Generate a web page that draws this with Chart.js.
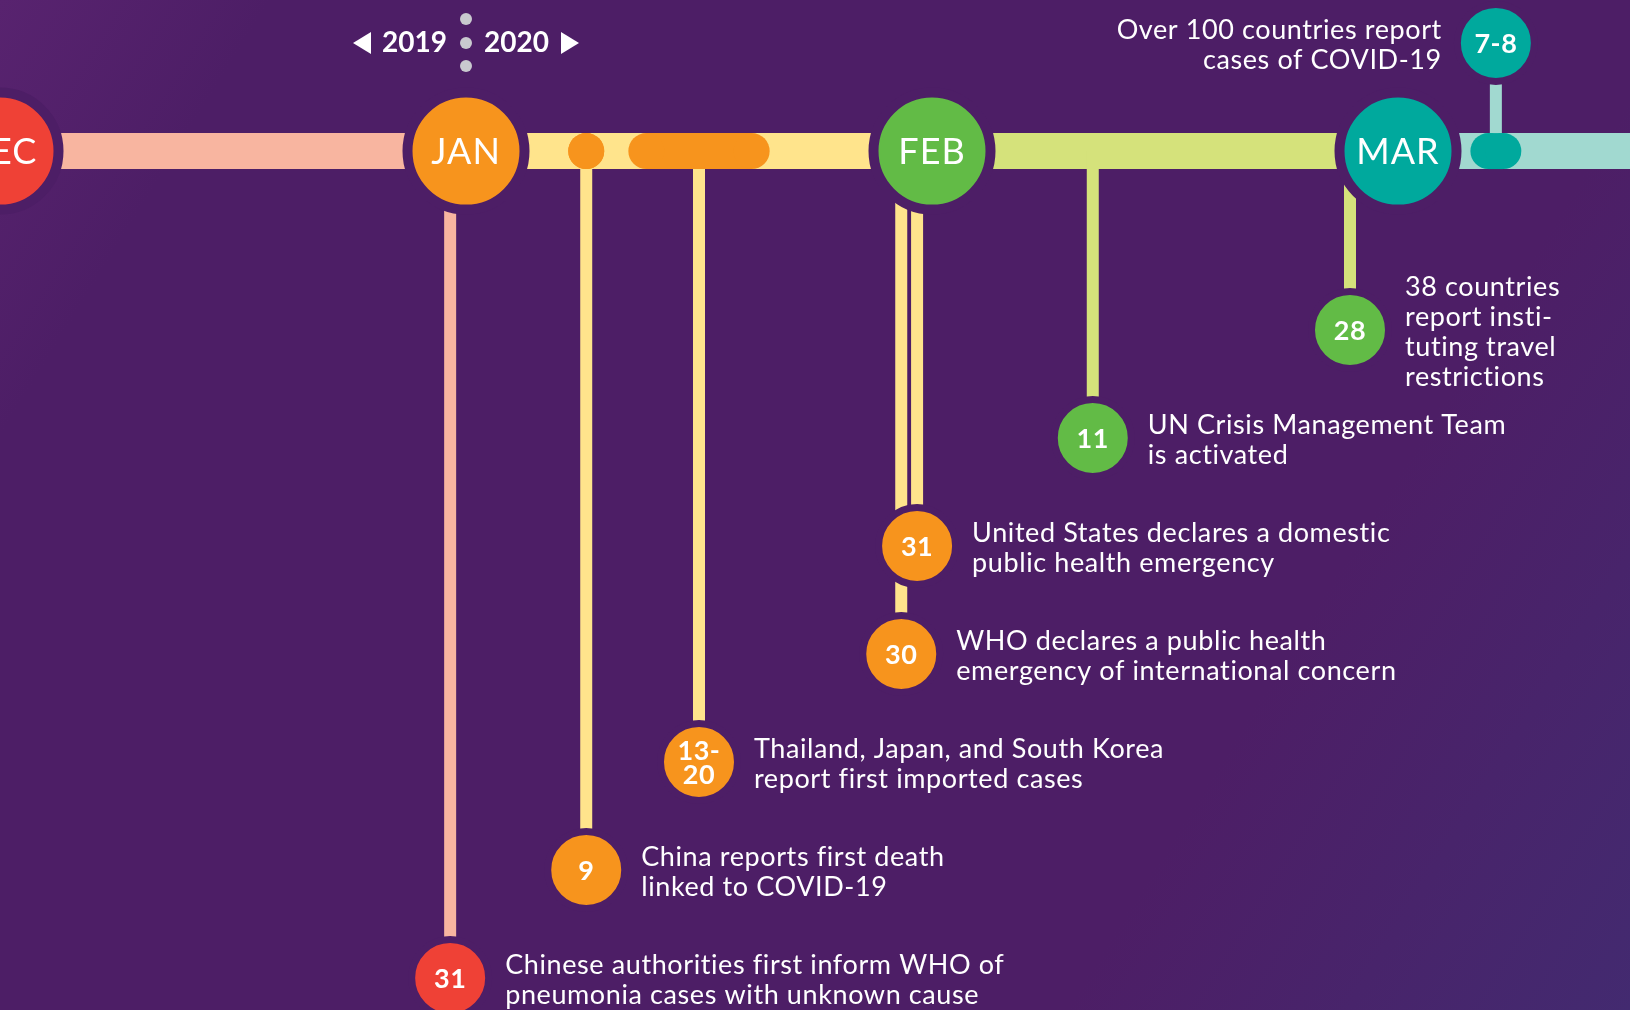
<!DOCTYPE html>
<html>
<head>
<meta charset="utf-8">
<script src="https://cdn.jsdelivr.net/npm/chart.js@4.4.1/dist/chart.umd.min.js"></script>
<style>
  html, body { margin: 0; padding: 0; overflow: hidden; background: #4D1E66; }
  canvas { display: block; }
</style>
</head>
<body>
<canvas id="timeline" width="1630" height="1010"></canvas>
<script>
// Months along the band (x = month index, DEC 2019 = 0)
const months = ['DEC', 'JAN', 'FEB', 'MAR'];
const monthPos = [0, 1, 2, 3];
const monthColors = ['#EF4136', '#F7941D', '#62BB46', '#00A99D'];
const bandColors = ['#F8B5A0', '#FFE48C', '#D5E27B', '#A1D9D0'];
const bandEnds = [1, 2, 3, 3.5];
const bandRow = -0.657;

// Events (position on the month axis, row below / above the band)
const eventDays = ['31', '9', '13-\n20', '30', '31', '11', '28', '7-8'];
const eventPos = [0.966, 1.258, 1.5, 1.934, 1.968, 2.345, 2.897, 3.21];
const eventRow = [7, 6, 5, 4, 3, 2, 1, -1.657];
const eventMonth = [0, 1, 1, 1, 1, 2, 2, 3];
const eventText = [
    ['Chinese authorities first inform WHO of', 'pneumonia cases with unknown cause'],
    ['China reports first death', 'linked to COVID-19'],
    ['Thailand, Japan, and South Korea', 'report first imported cases'],
    ['WHO declares a public health', 'emergency of international concern'],
    ['United States declares a domestic', 'public health emergency'],
    ['UN Crisis Management Team', 'is activated'],
    ['38 countries', 'report insti-', 'tuting travel', 'restrictions'],
    ['Over 100 countries report', 'cases of COVID-19']
];

// Highlights drawn on the band (start, end)
const markStart = [1.258, 1.387, 3.194];
const markEnd = [1.258, 1.613, 3.226];
const markColors = ['#F7941D', '#F7941D', '#00A99D'];

const years = ['2019', '2020'];

const BG = '#4D1E66';
const PX_PER_MONTH = 466;
const PX_PER_ROW = 108;
const yMin = -2.056;


let datasets = [];

// band segments
monthPos.forEach((m, i) => {
    datasets.push({
        type: 'line',
        data: [{x: m, y: bandRow}, {x: bandEnds[i], y: bandRow}],
        borderColor: bandColors[i],
        borderWidth: 36,
        borderCapStyle: 'butt',
        pointRadius: 0,
        clip: false,
        order: 50
    });
});

// stems
eventPos.forEach((p, i) => {
    datasets.push({
        type: 'line',
        data: [{x: p, y: bandRow}, {x: p, y: eventRow[i]}],
        borderColor: bandColors[eventMonth[i]],
        borderWidth: 12,
        borderCapStyle: 'butt',
        pointRadius: 0,
        clip: false,
        order: 40
    });
});

// marks on band
markStart.forEach((s, i) => {
    datasets.push({
        type: 'line',
        data: [{x: s, y: bandRow}, {x: markEnd[i], y: bandRow}],
        borderColor: markColors[i],
        borderWidth: 36,
        borderCapStyle: 'butt',
        pointRadius: 18,
        pointBorderWidth: 0,
        pointBackgroundColor: markColors[i],
        clip: false,
        order: 30
    });
});

// month circles
datasets.push({
    type: 'scatter',
    data: monthPos.map(m => ({x: m, y: bandRow})),
    pointRadius: 58.5,
    pointBorderWidth: 10,
    pointBorderColor: BG,
    pointBackgroundColor: monthColors,
    clip: false,
    order: 20
});

// event circles
datasets.push({
    type: 'scatter',
    data: eventPos.map((p, i) => ({x: p, y: eventRow[i]})),
    pointRadius: 38.5,
    pointBorderWidth: 7,
    pointBorderColor: BG,
    pointBackgroundColor: eventMonth.map(m => monthColors[m]),
    clip: false,
    order: 10
});


const background = {
    id: 'background',
    beforeDraw(chart) {
        const ctx = chart.ctx;
        const w = chart.width, h = chart.height;
        const g = ctx.createLinearGradient(0, 0, w, h);
        g.addColorStop(0, '#58236F');
        g.addColorStop(0.12, '#4D1E66');
        g.addColorStop(0.75, '#4D1E66');
        g.addColorStop(1, '#432A70');
        ctx.save();
        ctx.fillStyle = g;
        ctx.fillRect(0, 0, w, h);
        ctx.restore();
    }
};


const labels = {
    id: 'labels',
    afterDatasetsDraw(chart) {
        const ctx = chart.ctx;
        const x = chart.scales.x, y = chart.scales.y;
        ctx.save();
        ctx.fillStyle = '#FFFFFF';
        ctx.textBaseline = 'middle';

        // month names
        ctx.textAlign = 'center';
        ctx.font = '36px Lato';
        ctx.letterSpacing = '1px';
        months.forEach((m, i) => {
            ctx.fillText(m, x.getPixelForValue(monthPos[i]), y.getPixelForValue(bandRow) + 1);
        });

        // day numbers
        ctx.font = 'bold 27px Lato';
        ctx.letterSpacing = '0.5px';
        eventDays.forEach((d, i) => {
            const cx = x.getPixelForValue(eventPos[i]);
            const cy = y.getPixelForValue(eventRow[i]);
            const lines = d.split('\n');
            lines.forEach((l, j) => {
                ctx.fillText(l, cx, cy + 1 + (j - (lines.length - 1) / 2) * 24);
            });
        });

        // descriptions
        ctx.font = '27px Lato';
        ctx.letterSpacing = '0.6px';
        eventText.forEach((lines, i) => {
            const cx = x.getPixelForValue(eventPos[i]);
            const cy = y.getPixelForValue(eventRow[i]);
            const above = eventRow[i] < bandRow;
            ctx.textAlign = above ? 'right' : 'left';
            const tx = above ? cx - 54 : cx + 55;
            lines.forEach((l, j) => {
                ctx.fillText(l, tx, cy + 2 + (j - (lines.length - 1) / 2) * 30);
            });
        });

        // year header over JAN
        const jx = x.getPixelForValue(1);
        ctx.font = 'bold 28px Lato';
        ctx.letterSpacing = '0px';
        ctx.textAlign = 'right';
        ctx.fillText(years[0], jx - 19, 43);
        ctx.textAlign = 'left';
        ctx.fillText(years[1], jx + 18, 43);

        ctx.fillStyle = '#C9C9CF';
        [19, 43, 66].forEach(dy => {
            ctx.beginPath();
            ctx.arc(jx, dy, 6, 0, Math.PI * 2);
            ctx.fill();
        });

        ctx.fillStyle = '#FFFFFF';
        ctx.beginPath();
        ctx.moveTo(jx - 113, 43);
        ctx.lineTo(jx - 95, 32);
        ctx.lineTo(jx - 95, 54);
        ctx.closePath();
        ctx.fill();
        ctx.beginPath();
        ctx.moveTo(jx + 113, 43);
        ctx.lineTo(jx + 95, 32);
        ctx.lineTo(jx + 95, 54);
        ctx.closePath();
        ctx.fill();

        ctx.restore();
    }
};


const canvas = document.getElementById('timeline');

let timelineChart = new Chart(canvas, {
    type: 'scatter',
    data: { datasets: datasets },
    options: {
        responsive: false,
        animation: false,
        events: [],
        layout: { padding: 0, autoPadding: false },
        scales: {
            x: { type: 'linear', display: false, min: 0, max: 1630 / PX_PER_MONTH },
            y: { type: 'linear', display: false, reverse: true, min: yMin, max: yMin + 1010 / PX_PER_ROW }
        },
        plugins: {
            legend: { display: false },
            tooltip: { enabled: false }
        }
    },
    plugins: [background, labels]
});
</script>
</body>
</html>
